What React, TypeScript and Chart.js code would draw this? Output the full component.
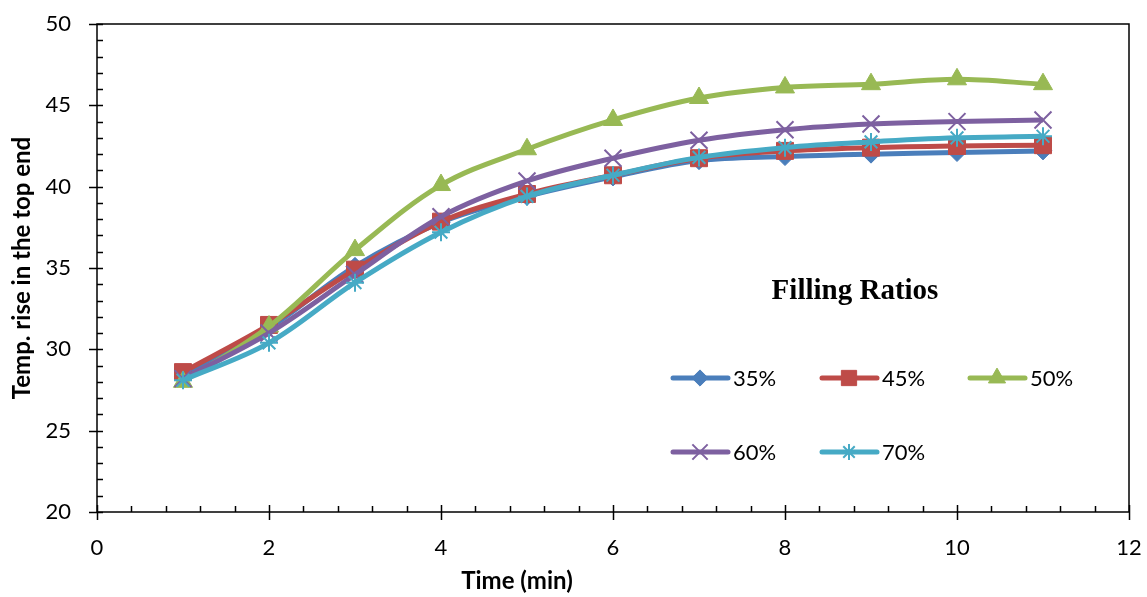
import React, { useEffect, useRef } from 'react';
import { Chart, registerables } from 'chart.js';
import { drawPoint } from 'chart.js/helpers';

Chart.register(...registerables);

// ---- data ----
const times = [1, 2, 3, 4, 5, 6, 7, 8, 9, 10, 11];
const fr35 = [28.3, 31.3, 35.1, 37.8, 39.4, 40.6, 41.6, 41.85, 42.0, 42.1, 42.2];
const fr45 = [28.6, 31.5, 34.9, 37.85, 39.55, 40.7, 41.75, 42.2, 42.4, 42.5, 42.55];
const fr50 = [28.0, 31.4, 36.1, 40.1, 42.3, 44.1, 45.45, 46.1, 46.3, 46.6, 46.3];
const fr60 = [28.2, 31.0, 34.6, 38.15, 40.35, 41.75, 42.85, 43.5, 43.85, 44.0, 44.1];
const fr70 = [28.1, 30.4, 34.1, 37.2, 39.4, 40.7, 41.8, 42.4, 42.75, 43.0, 43.1];
const seriesLabels = ['35%', '45%', '50%', '60%', '70%'];
const seriesValues = [fr35, fr45, fr50, fr60, fr70];
const xTitle = 'Time (min)';
const yTitle = 'Temp. rise in the top end';
const legendTitle = 'Filling Ratios';

// ---- styles ----
const colors = ['#4A7EBB', '#BE4B48', '#98B954', '#7D60A0', '#46AAC5'];
const pointStyles = ['rectRot', 'rect', 'triangle', 'crossRot', 'star'];
const pointRadii = [9, 12, 11, 12, 9];
const pointBorders = [1, 1, 1, 2, 2];

const FONT = 'Lato, "Liberation Sans", sans-serif';

const decorPlugin = {
  id: 'decor',
  afterDatasetsDraw(chart: any) {
    const ctx = chart.ctx;
    const xs = chart.scales.x;
    const ys = chart.scales.y;
    const a = chart.chartArea;
    ctx.save();
    ctx.strokeStyle = '#000';
    ctx.lineWidth = 1.5;
    ctx.strokeRect(a.left, a.top, a.right - a.left, a.bottom - a.top);
    ctx.lineWidth = 1.5;
    ctx.beginPath();
    // y ticks
    for (let v = ys.min; v <= ys.max + 1e-9; v += 1) {
      const py = Math.round(ys.getPixelForValue(v)) + 0.5;
      const major = Math.abs(v % 5) < 1e-9;
      ctx.moveTo(a.left - (major ? 8 : 0), py);
      ctx.lineTo(a.left + 6, py);
    }
    // x ticks
    for (let i = 0; i <= 30; i++) {
      const v = i * 0.4;
      const px = Math.round(xs.getPixelForValue(v)) + 0.5;
      const major = i % 5 === 0;
      ctx.moveTo(px, a.bottom + (major ? 8 : 0));
      ctx.lineTo(px, a.bottom - (major ? 7 : 6));
    }
    ctx.stroke();

    // axis titles
    ctx.fillStyle = '#000';
    ctx.font = `bold 24px ${FONT}`;
    ctx.textAlign = 'center';
    ctx.textBaseline = 'middle';
    ctx.fillText(xTitle, 517, 581);
    ctx.save();
    ctx.translate(22, (a.top + a.bottom) / 2);
    ctx.rotate(-Math.PI / 2);
    ctx.fillText(yTitle, 0, 0);
    ctx.restore();

    // legend
    ctx.font = 'bold 29px "Liberation Serif", "Times New Roman", serif';
    ctx.fillText(legendTitle, 855, 292);
    const slots = [
      [673, 378], [822, 378], [970, 378],
      [673, 452], [822, 452],
    ];
    ctx.font = `22px ${FONT}`;
    ctx.textAlign = 'left';
    seriesLabels.forEach((lab, i) => {
      const [sx, sy] = slots[i];
      ctx.strokeStyle = colors[i];
      ctx.lineWidth = 5;
      ctx.lineCap = 'round';
      ctx.beginPath();
      ctx.moveTo(sx, sy);
      ctx.lineTo(sx + 55, sy);
      ctx.stroke();
      ctx.fillStyle = colors[i];
      ctx.lineWidth = pointBorders[i];
      ctx.lineCap = 'butt';
      drawPoint(ctx, { pointStyle: pointStyles[i], radius: pointRadii[i] * 0.9, rotation: 0, borderWidth: pointBorders[i] }, sx + 27, sy);
      ctx.fillStyle = '#000';
      ctx.fillText(lab, sx + 60, sy + 1);
    });
    ctx.restore();
  },
};

const bgPlugin = {
  id: 'bg',
  beforeDraw(chart: any) {
    const ctx = chart.ctx;
    ctx.save();
    ctx.fillStyle = '#fff';
    ctx.fillRect(0, 0, chart.width, chart.height);
    ctx.restore();
  },
};

export default function App() {
  const ref = useRef<HTMLCanvasElement | null>(null);
  useEffect(() => {
    if (!ref.current) return;
    const datasets = seriesLabels.map((lab, i) => ({
      label: lab,
      data: times.map((t, j) => ({ x: t, y: seriesValues[i][j] })),
      borderColor: colors[i],
      backgroundColor: colors[i],
      borderWidth: 5,
      tension: 0.35,
      pointStyle: pointStyles[i],
      pointRadius: pointRadii[i],
      pointBorderWidth: pointBorders[i],
      pointBackgroundColor: colors[i],
      pointBorderColor: colors[i],
      order: seriesLabels.length - i,
      fill: false,
    }));
    const chart = new Chart(ref.current, {
      type: 'line',
      data: { datasets },
      options: {
        responsive: false,
        animation: false,
        layout: { padding: { top: 24, right: 18, left: 0, bottom: 0 } },
        plugins: { legend: { display: false }, tooltip: { enabled: false } },
        scales: {
          x: {
            type: 'linear',
            min: 0,
            max: 12,
            ticks: { stepSize: 2, color: '#000', font: { family: FONT, size: 22 }, padding: 23, maxRotation: 0 },
            grid: { display: false, drawTicks: false },
            border: { display: false },
            afterFit: (s: any) => { s.height = 85; s.paddingLeft = 0; s.paddingRight = 0; },
          },
          y: {
            type: 'linear',
            min: 20,
            max: 50,
            ticks: { stepSize: 5, color: '#000', font: { family: FONT, size: 22 }, padding: 26 },
            grid: { display: false, drawTicks: false },
            border: { display: false },
            afterFit: (s: any) => { s.width = 97; s.paddingTop = 0; s.paddingBottom = 0; },
          },
        },
      },
      plugins: [bgPlugin, decorPlugin],
    });
    return () => chart.destroy();
  }, []);
  return (
    <div style={{ position: 'absolute', left: 0, top: 0, width: 1147, height: 597 }}>
      <canvas ref={ref} width={1147} height={597} />
    </div>
  );
}
